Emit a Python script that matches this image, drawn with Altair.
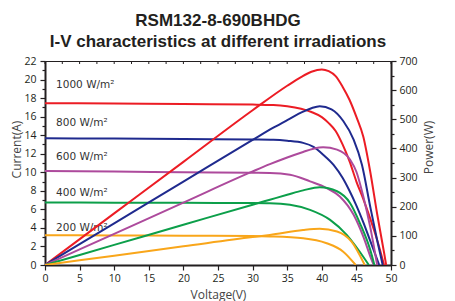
import altair as alt
import pandas as pd

series = ["1000 W/m²", "800 W/m²", "600 W/m²", "400 W/m²", "200 W/m²"]
colors = ["#EC1C24", "#1F2A8E", "#AD4A9C", "#0C9F4A", "#F9A61A"]

# Current (A) vs voltage (V)
cur_v = {
    "1000 W/m²": [0, 10, 20, 30, 33, 35, 37, 38.5, 40, 41, 42, 43, 44, 45, 46, 47, 48, 49.0],
    "800 W/m²": [0, 10, 20, 30, 33, 35, 37.3, 38.8, 40.2, 41.7, 43, 44, 45, 46, 47, 48.3],
    "600 W/m²": [0, 10, 20, 30, 32.5, 35.4, 38.3, 40.7, 42.6, 44.6, 46, 47.2, 47.5],
    "400 W/m²": [0, 10, 20, 30, 32.5, 35.4, 38.3, 41.2, 43.6, 45.3, 46.8],
    "200 W/m²": [0, 10, 20, 30, 32.5, 37.3, 40.7, 43.1, 44.9],
}
cur_i = {
    "1000 W/m²": [17.45, 17.41, 17.36, 17.3, 17.25, 17.12, 16.85, 16.5, 15.95, 15.3, 14.45, 13.0, 11.2, 9.0, 7.1, 5.0, 2.7, 0],
    "800 W/m²": [13.67, 13.63, 13.58, 13.53, 13.5, 13.4, 13.17, 12.74, 11.9, 10.8, 9.4, 8.0, 6.4, 4.6, 2.6, 0],
    "600 W/m²": [10.14, 10.07, 10.0, 9.94, 9.92, 9.74, 9.02, 8.3, 7.39, 5.41, 3.06, 0.54, 0],
    "400 W/m²": [6.74, 6.72, 6.7, 6.68, 6.66, 6.49, 5.95, 4.87, 3.25, 1.62, 0],
    "200 W/m²": [3.21, 3.19, 3.16, 3.12, 3.08, 2.89, 2.35, 1.44, 0],
}
# Power (W) vs voltage (V)
pow_v = {
    "1000 W/m²": [0, 10, 20, 30, 35, 37, 38.5, 40, 41, 42, 43, 44, 45, 46, 47, 48, 49, 49.3],
    "800 W/m²": [0, 10, 20, 30, 33, 35, 37.3, 38.5, 39.7, 41.4, 43.1, 44.6, 45.8, 47, 48, 48.8],
    "600 W/m²": [0, 10, 20, 30, 32.5, 35, 37.3, 38.8, 40.2, 42.2, 44.1, 45, 46, 47, 48.0],
    "400 W/m²": [0, 10, 20, 30, 32.5, 35, 37.3, 39.7, 42.2, 44.1, 45.5, 47, 47.6],
    "200 W/m²": [0, 10, 20, 30, 32.5, 37.3, 39.7, 42.2, 44.3, 46.2],
}
pow_p = {
    "1000 W/m²": [0, 177, 354, 531, 615, 645, 663, 671, 665, 648, 612, 567, 508, 440, 320, 175, 42, 0],
    "800 W/m²": [0, 143, 286, 429, 471, 497, 526, 538, 545, 534, 494, 430, 344, 200, 85, 0],
    "600 W/m²": [0, 107, 214, 321, 346, 369, 388, 399, 404, 396, 361, 320, 235, 130, 0],
    "400 W/m²": [0, 69, 138, 207, 224, 241, 256, 267, 253, 212, 144, 52, 0],
    "200 W/m²": [0, 32, 64, 96, 103, 120, 124, 115, 80, 0],
}

label_v = [1.6, 1.6, 1.6, 1.6, 1.6]
label_i = [19.4, 15.3, 11.6, 7.76, 4.04]

x_ticks = list(range(0, 51, 5))
top_ticks = [i * 2.5 for i in range(21)]
cur_ticks = list(range(0, 23))
pow_ticks = list(range(0, 701, 50))

cur_rows = []
for s in series:
    for k, (v, i) in enumerate(zip(cur_v[s], cur_i[s])):
        cur_rows.append({"V": v, "I": i, "s": s, "o": k})
pow_rows = []
for s in series:
    for k, (v, p) in enumerate(zip(pow_v[s], pow_p[s])):
        pow_rows.append({"V": v, "P": p, "s": s, "o": k})
cur_df = pd.DataFrame(cur_rows)
pow_df = pd.DataFrame(pow_rows)
lab_df = pd.DataFrame({"V": label_v, "I": label_i, "s": series})
top_df = pd.DataFrame({"V": top_ticks})

ink = "#231F20"
tick_font = "Open Sans"

color = alt.Color("s:N", scale=alt.Scale(domain=series, range=colors), legend=None)

xscale = alt.Scale(domain=[0, 50], nice=False)
yscale_cur = alt.Scale(domain=[0, 22], nice=False)
xaxis = alt.Axis(values=x_ticks, title="Voltage(V)", titleFont=tick_font, titleFontSize=12,
                 titleFontWeight="normal", titleColor="#444444", titleX=173, titleY=24,
                 titleBaseline="top", labelFont=tick_font, labelFontSize=10.5, labelColor=ink,
                 domainColor=ink, domainWidth=2, tickColor=ink, tickWidth=1.2, tickSize=5,
                 labelPadding=3, grid=False, labelFlush=False)

yaxis_cur = alt.Axis(values=cur_ticks, title="Current(A)",
                     labelExpr="datum.value % 2 == 0 ? datum.label : ''",
                     labelOverlap=False,
                     titleFont=tick_font, titleFontSize=12, titleFontWeight="normal",
                     titleColor="#444444", titleX=-29, titleY=88, titleAngle=270,
                     titleAlign="center", titleBaseline="middle",
                     labelFont=tick_font, labelFontSize=10.5, labelColor=ink,
                     domainColor=ink, domainWidth=2, tickColor=ink, tickWidth=1.2,
                     tickSize={"condition": {"test": "datum.value % 2 == 0", "value": 5}, "value": 3},
                     labelPadding=4, grid=False)

yaxis_pow = alt.Axis(values=pow_ticks, title="Power(W)", orient="right",
                     labelExpr="datum.value % 100 == 0 ? datum.label : ''",
                     labelOverlap=False,
                     titleFont=tick_font, titleFontSize=12, titleFontWeight="normal",
                     titleColor="#444444", titleX=37, titleY=86, titleAngle=270,
                     titleAlign="center", titleBaseline="middle",
                     labelFont=tick_font, labelFontSize=10.5, labelColor=ink,
                     domainColor=ink, domainWidth=2, tickColor=ink, tickWidth=1.2,
                     tickSize={"condition": {"test": "datum.value % 100 == 0", "value": 5}, "value": 3},
                     labelPadding=3, grid=False)

cur_lines = alt.Chart(cur_df).mark_line(strokeWidth=2, interpolate="monotone", clip=True).encode(
    x=alt.X("V:Q", scale=xscale, axis=xaxis),
    y=alt.Y("I:Q", scale=yscale_cur, axis=yaxis_cur),
    color=color,
    detail="s:N",
    order="o:Q",
)
labels = alt.Chart(lab_df).mark_text(align="left", baseline="middle", font="DejaVu Sans",
                                     fontSize=10.5, color="#333333").encode(
    x=alt.X("V:Q", scale=xscale, axis=xaxis),
    y=alt.Y("I:Q", scale=yscale_cur, axis=yaxis_cur),
    text="s:N",
)
top_rule = alt.Chart(top_df).mark_rule(color=ink, strokeWidth=1).encode(
    x=alt.X("V:Q", scale=xscale, axis=xaxis), y=alt.value(0), y2=alt.value(3)
)
left = alt.layer(cur_lines, labels, top_rule)

pow_lines = alt.Chart(pow_df).mark_line(strokeWidth=2, interpolate="monotone", clip=True).encode(
    x=alt.X("V:Q", scale=xscale, axis=xaxis),
    y=alt.Y("P:Q", scale=alt.Scale(domain=[0, 700], nice=False), axis=yaxis_pow),
    color=color,
    detail="s:N",
    order="o:Q",
)

chart = alt.layer(left, pow_lines).resolve_scale(y="independent").properties(
    width=346, height=204,
    autosize=alt.AutoSizeParams(type="none"),
    padding={"left": 37, "top": 53, "right": 56, "bottom": 40},
    title=alt.TitleParams(
        text=["RSM132-8-690BHDG", "I-V characteristics at different irradiations"],
        font="Liberation Sans", fontSize=17, fontWeight="bold", color=ink,
        lineHeight=21, anchor="middle", offset=5,
    ),
).configure_view(stroke=ink, strokeWidth=1)

chart.save("out.html", embed_options={"renderer": "svg", "actions": False})
